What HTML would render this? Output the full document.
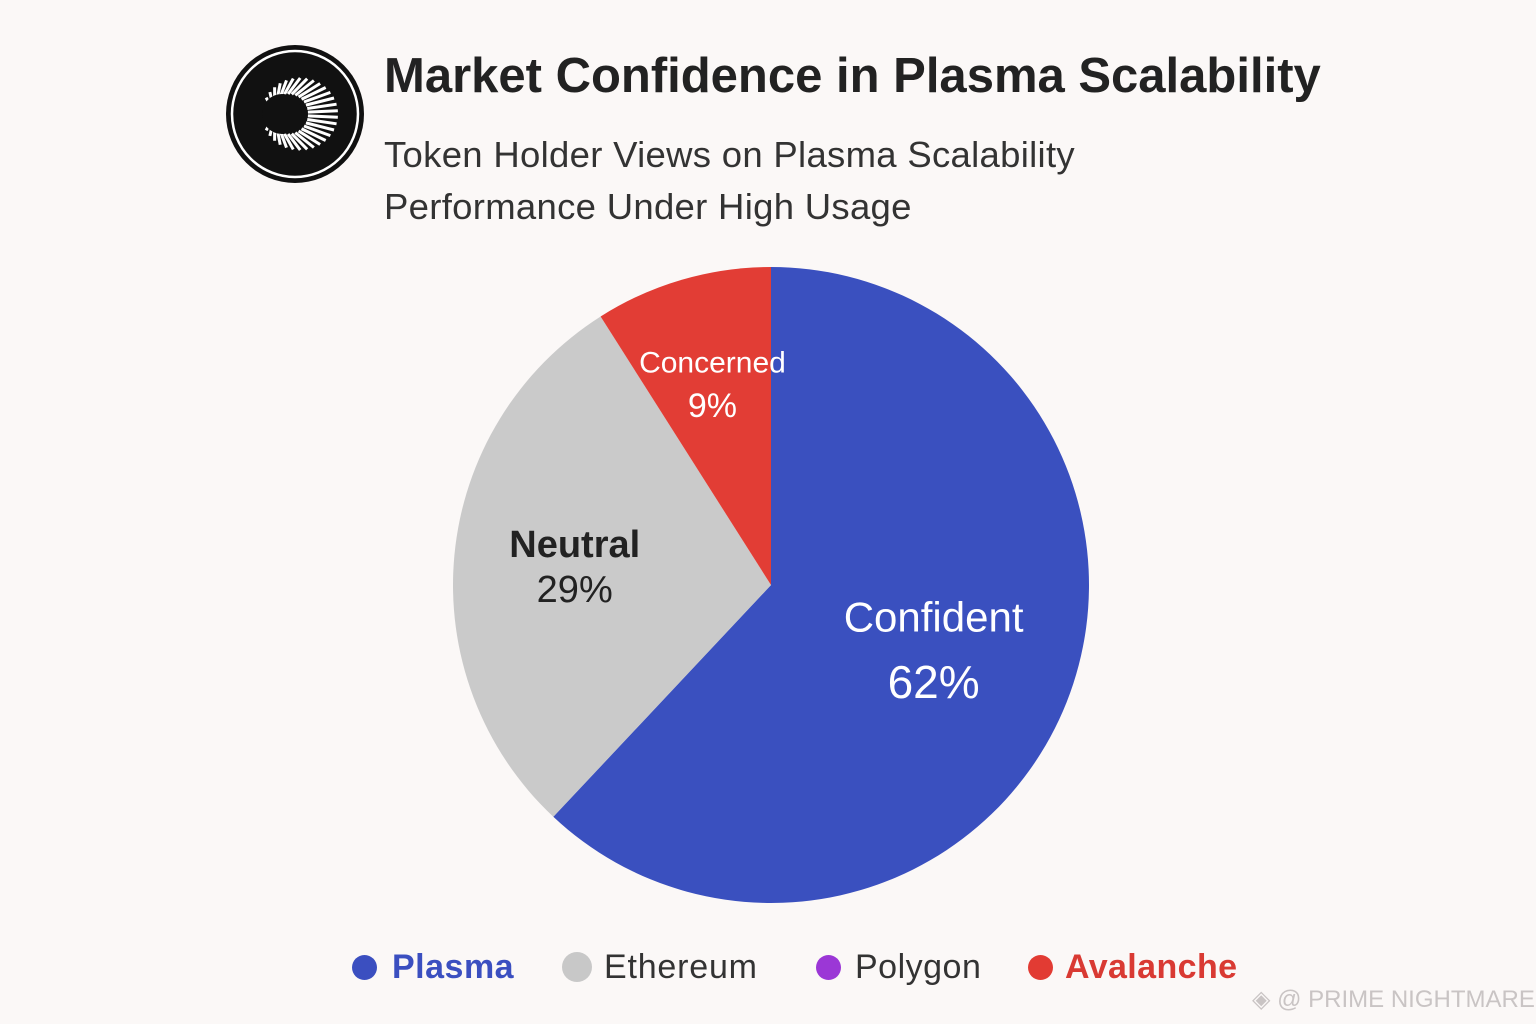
<!DOCTYPE html>
<html><head><meta charset="utf-8">
<style>
html,body{margin:0;padding:0}
body{width:1536px;height:1024px;background:#fbf8f7;font-family:"Liberation Sans","DejaVu Sans",sans-serif;position:relative;overflow:hidden}
.t{position:absolute;white-space:nowrap}
</style></head>
<body>
<svg width="150" height="150" style="position:absolute;left:220px;top:40px" viewBox="0 0 150 150">
<circle cx="75" cy="74" r="69" fill="#111"/>
<circle cx="75" cy="74" r="63" fill="none" stroke="#fff" stroke-width="2.5"/>
<g id="rays"></g>
<circle cx="62" cy="74" r="20" fill="#111"/>
</svg>
<div class="t" style="left:384px;top:48px;font-size:49px;font-weight:bold;color:#222">Market Confidence in Plasma Scalability</div>
<div class="t" style="left:384px;top:134px;font-size:36.5px;letter-spacing:0.3px;color:#333">Token Holder Views on Plasma Scalability</div>
<div class="t" style="left:384px;top:186px;font-size:36.5px;letter-spacing:0.3px;color:#333">Performance Under High Usage</div>
<svg id="pie" width="1536" height="1024" style="position:absolute;left:0;top:0"></svg>
<div style="position:absolute;left:352px;top:948px;height:40px;font-size:34px">
<span class="t" style="left:0;top:0;color:#3b4fc0;font-weight:bold;letter-spacing:0.5px"><span style="display:inline-block;width:25px;height:25px;border-radius:50%;background:#3b4fc0;margin-right:15px;vertical-align:-2px"></span>Plasma</span>
<span class="t" style="left:210px;top:0;color:#333;letter-spacing:0.8px"><span style="display:inline-block;width:30px;height:30px;border-radius:50%;background:#c8c8c8;margin-right:12px;vertical-align:-4px"></span>Ethereum</span>
<span class="t" style="left:464px;top:0;color:#333;letter-spacing:0.5px"><span style="display:inline-block;width:25px;height:25px;border-radius:50%;background:#9b37d6;margin-right:14px;vertical-align:-2px"></span>Polygon</span>
<span class="t" style="left:676px;top:0;color:#d93a33;font-weight:bold;letter-spacing:0.4px"><span style="display:inline-block;width:25px;height:25px;border-radius:50%;background:#e23b33;margin-right:12px;vertical-align:-2px"></span>Avalanche</span>
</div>
<div class="t" style="left:1252px;top:985px;font-size:24px;color:#c9c4c4">◈ @ PRIME NIGHTMARE</div>
<script>
const categories=["Confident","Neutral","Concerned"];
const values=[62,29,9];
const colors=["#3a50bf","#cacaca","#e23d35"];
const labelColors=["#fff","#222","#fff"];
const NS="http://www.w3.org/2000/svg";
const svg=document.getElementById('pie');
const cx=771,cy=585,r=318;
const total=values.reduce((a,b)=>a+b,0);
function pt(a,rr){return [cx+rr*Math.sin(a),cy-rr*Math.cos(a)];}
const labelR=[0.55,0.62,0.66];
const fsName=[42,38,30];
const fsVal=[46,38,34];
const gap=[65,45,43];
const bold=['normal','bold','normal'];
let acc=0;
values.forEach((v,i)=>{
  const a0=acc/total*2*Math.PI, a1=(acc+v)/total*2*Math.PI; acc+=v;
  const p0=pt(a0,r),p1=pt(a1,r);
  const path=document.createElementNS(NS,'path');
  path.setAttribute('d',`M${cx},${cy}L${p0[0]},${p0[1]}A${r},${r} 0 ${a1-a0>Math.PI?1:0} 1 ${p1[0]},${p1[1]}Z`);
  path.setAttribute('fill',colors[i]);
  
  
  svg.appendChild(path);
  const am=(a0+a1)/2;
  const lp=pt(am,r*labelR[i]);
  [[categories[i],-gap[i]/2+fsName[i]*0.35,fsName[i],bold[i]],[v+'%',gap[i]/2+fsVal[i]*0.35,fsVal[i],'normal']].forEach((d,k)=>{
    const t=document.createElementNS(NS,'text');
    t.setAttribute('x',lp[0]);t.setAttribute('y',lp[1]+d[1]);
    t.setAttribute('text-anchor','middle');
    t.setAttribute('font-size',d[2]);
    t.setAttribute('font-weight',d[3]);
    t.setAttribute('fill',labelColors[i]);
    t.setAttribute('font-family','Liberation Sans, sans-serif');
    t.textContent=d[0];
    
    
    svg.appendChild(t);
  });
});
const g=document.getElementById('rays');
for(let k=0;k<30;k++){
  const a=-Math.PI*0.85+k*(Math.PI*1.7/29);
  const l=document.createElementNS(NS,'line');
  l.setAttribute('x1',68+20*Math.cos(a));l.setAttribute('y1',74+20*Math.sin(a));
  l.setAttribute('x2',80+38*Math.cos(a));l.setAttribute('y2',74+36*Math.sin(a));
  l.setAttribute('stroke','#fff');l.setAttribute('stroke-width','3');
  g.appendChild(l);
}
</script>
</body></html>
